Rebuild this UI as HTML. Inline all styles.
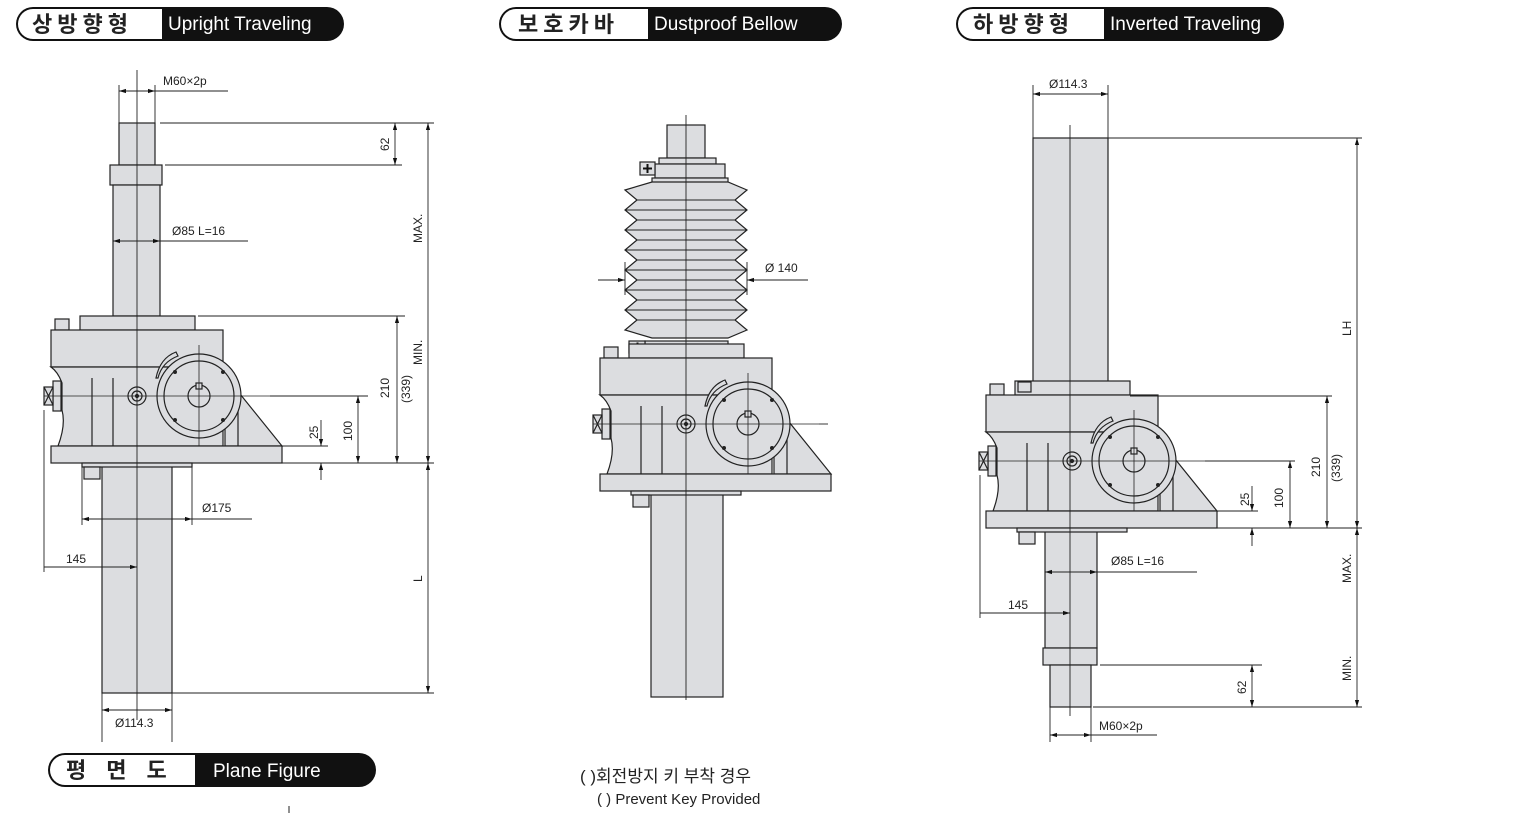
<!DOCTYPE html>
<html><head><meta charset="utf-8"><style>
html,body{margin:0;padding:0;background:#fff;}
svg{display:block;}
text{font-family:"Liberation Sans","Noto Sans CJK KR",sans-serif;fill:#222;}
.d{font-size:12px;}
</style></head><body>
<svg width="1528" height="813" viewBox="0 0 1528 813" xmlns="http://www.w3.org/2000/svg">
<defs>
<marker id="a" viewBox="0 0 10 10" refX="10" refY="5" markerWidth="8" markerHeight="8" orient="auto-start-reverse"><path d="M0,2 L10,5 L0,8 z" fill="#111"/></marker>
<g id="gb" stroke="#222" stroke-width="1.2" fill="#dcdde0">
 <rect x="80" y="316" width="115" height="14"/>
 <rect x="55" y="319" width="14" height="11"/>
 <rect x="51" y="330" width="172" height="37"/>
 <path d="M51,367 L223,367 L223,446 L58,446 Q66,425 62,410 L62,383 Q58,372 51,367 z"/>
 <rect x="53" y="381" width="8" height="30"/>
 <rect x="44" y="387" width="9" height="18"/>
 <path d="M44,387 L53,405 M53,387 L44,405" fill="none"/>
 <path d="M92,378 V446 M113,378 V446" fill="none"/>
 <path d="M225,370 L232,384 L282,446 L225,446 z"/>
 <path d="M238,386 V446" fill="none"/>
 <circle cx="137" cy="396" r="9"/><circle cx="137" cy="396" r="5"/><circle cx="137" cy="396" r="1.5" fill="#222"/>
 <path d="M158,378 Q162,362 178,356 L176,352 Q160,358 156,378 z"/>
 <circle cx="199" cy="396" r="42"/>
 <circle cx="199" cy="396" r="35"/>
 <circle cx="199" cy="396" r="11"/>
 <rect x="196" y="383" width="6" height="6"/>
 <g fill="#222" stroke="none"><circle cx="175" cy="372" r="2"/><circle cx="223" cy="372" r="2"/><circle cx="175" cy="420" r="2"/><circle cx="223" cy="420" r="2"/></g>
 <path d="M199,345 V446" fill="none" stroke-width="0.8"/>
 <rect x="51" y="446" width="231" height="17"/>
 <rect x="82" y="463" width="110" height="4"/>
 <rect x="84" y="467" width="16" height="12"/>
 <path d="M44,396 H270" fill="none" stroke-width="0.8"/>
</g>
</defs>

<!-- headers -->
<g>
 <rect x="16" y="7" width="328" height="34" rx="17" fill="#111"/>
 <path d="M33,9 H162 V39 H33 A15,15 0 0 1 33,9 z" fill="#fff"/>
 <text x="32" y="32" font-size="22" font-weight="bold" letter-spacing="5">상방향형</text>
 <text x="168" y="30" font-size="19" style="fill:#fff">Upright Traveling</text>

 <rect x="499" y="7" width="343" height="34" rx="17" fill="#111"/>
 <path d="M516,9 H648 V39 H516 A15,15 0 0 1 516,9 z" fill="#fff"/>
 <text x="518" y="32" font-size="22" font-weight="bold" letter-spacing="5">보호카바</text>
 <text x="654" y="30" font-size="19" style="fill:#fff">Dustproof Bellow</text>

 <rect x="956" y="7" width="328" height="34" rx="17" fill="#111"/>
 <path d="M973,9 H1104 V39 H973 A15,15 0 0 1 973,9 z" fill="#fff"/>
 <text x="973" y="32" font-size="22" font-weight="bold" letter-spacing="5">하방향형</text>
 <text x="1110" y="30" font-size="19" style="fill:#fff">Inverted Traveling</text>

 <rect x="48" y="753" width="328" height="34" rx="17" fill="#111"/>
 <path d="M65,755 H195 V785 H65 A15,15 0 0 1 65,755 z" fill="#fff"/>
 <text x="66" y="778" font-size="22" font-weight="bold" letter-spacing="20">평면도</text>
 <text x="213" y="777" font-size="19" style="fill:#fff">Plane Figure</text>
 <path d="M289,806 V813" stroke="#222"/>
</g>

<!-- UPRIGHT -->
<g stroke="#222" stroke-width="1.2" fill="#dcdde0">
 <rect x="119" y="123" width="36" height="42"/>
 <rect x="110" y="165" width="52" height="20"/>
 <rect x="113" y="185" width="47" height="131"/>
 <rect x="102" y="463" width="70" height="230"/>
</g>
<use href="#gb"/>
<g stroke="#222" stroke-width="0.9" fill="none">
 <path d="M137,70 V720"/>
 <path d="M119,85 V123 M155,85 V123 M155,91 H228"/>
 <path d="M119,91 H155" marker-start="url(#a)" marker-end="url(#a)"/>
 <path d="M160,123 H434 M165,165 H402"/>
 <path d="M395,123 V165" marker-start="url(#a)" marker-end="url(#a)"/>
 <path d="M428,123 V463" marker-start="url(#a)" marker-end="url(#a)"/>
 <path d="M428,463 V693" marker-start="url(#a)" marker-end="url(#a)"/>
 <path d="M198,316 H405"/>
 <path d="M397,316 V463" marker-start="url(#a)" marker-end="url(#a)"/>
 <path d="M270,396 H368"/>
 <path d="M358,396 V463" marker-start="url(#a)" marker-end="url(#a)"/>
 <path d="M282,446 H328 M282,463 H434"/>
 <path d="M321,420 V446" marker-end="url(#a)"/>
 <path d="M321,480 V463" marker-end="url(#a)"/>
 <path d="M160,241 H248"/>
 <path d="M113,241 H160" marker-start="url(#a)" marker-end="url(#a)"/>
 <path d="M82,467 V525 M192,467 V525 M192,519 H252"/>
 <path d="M82,519 H192" marker-start="url(#a)" marker-end="url(#a)"/>
 <path d="M44,410 V572"/>
 <path d="M44,567 H137" marker-end="url(#a)"/>
 <path d="M102,693 V742 M172,693 V742 M172,693 H434"/>
 <path d="M102,710 H172" marker-start="url(#a)" marker-end="url(#a)"/>
</g>
<g class="d">
 <text x="163" y="85">M60×2p</text>
 <text transform="translate(389,151) rotate(-90)">62</text>
 <text transform="translate(422,243) rotate(-90)">MAX.</text>
 <text transform="translate(422,365) rotate(-90)">MIN.</text>
 <text transform="translate(422,582) rotate(-90)">L</text>
 <text transform="translate(389,398) rotate(-90)">210</text>
 <text transform="translate(410,403) rotate(-90)">(339)</text>
 <text transform="translate(352,441) rotate(-90)">100</text>
 <text transform="translate(318,439) rotate(-90)">25</text>
 <text x="172" y="235">Ø85  L=16</text>
 <text x="202" y="512">Ø175</text>
 <text x="66" y="563">145</text>
 <text x="115" y="727">Ø114.3</text>
</g>

<!-- DUSTPROOF -->
<g stroke="#222" stroke-width="1.2" fill="#dcdde0">
 <rect x="667" y="125" width="38" height="33"/>
 <rect x="659" y="158" width="57" height="6"/>
 <rect x="655" y="164" width="70" height="14"/>
 <rect x="640" y="162" width="15" height="13"/>
 <rect x="652" y="178" width="76" height="8"/>
 <path d="M625,190 L652,182 H728 L747,190 L735,200 L747,210 L735,220 L747,230 L735,240 L747,250 L735,260 L747,270 L735,280 L747,290 L735,300 L747,310 L735,320 L747,330 L728,338 H652 L625,330 L637,320 L625,310 L637,300 L625,290 L637,280 L625,270 L637,260 L625,250 L637,240 L625,230 L637,220 L625,210 L637,200 z"/>
 <path d="M637,200 H735 M625,210 H747 M637,220 H735 M625,230 H747 M637,240 H735 M625,250 H747 M637,260 H735 M625,270 H747 M637,280 H735 M625,290 H747 M637,300 H735 M625,310 H747 M637,320 H735" fill="none" stroke-width="0.9"/>
 <rect x="645" y="341" width="83" height="10"/>
 <rect x="629" y="341" width="16" height="12"/>
 <rect x="651" y="490" width="72" height="207"/>
</g>
<path d="M643,168.5 H652 M647.5,164 V173 M633,347 H642 M637.5,342.5 V351.5" stroke="#111" stroke-width="2"/>
<use href="#gb" transform="translate(549,28)"/>
<g stroke="#222" stroke-width="0.9" fill="none">
 <path d="M686,115 V700"/>
 <path d="M625,262 V295 M747,262 V295 M747,280 H808"/>
 <path d="M598,280 H625" marker-end="url(#a)"/>
 <path d="M780,280 H747" marker-end="url(#a)"/>
 <path d="M819,424 H828"/>
</g>
<text class="d" x="765" y="272">Ø 140</text>
<text x="580" y="782" font-size="17">(  )회전방지 키 부착 경우</text>
<text x="597" y="804" font-size="15">(    ) Prevent Key Provided</text>

<!-- INVERTED -->
<g stroke="#222" stroke-width="1.2" fill="#dcdde0">
 <rect x="1033" y="138" width="75" height="252"/>
 <rect x="1045" y="528" width="52" height="120"/>
 <rect x="1043" y="648" width="54" height="17"/>
 <rect x="1050" y="665" width="41" height="42"/>
</g>
<use href="#gb" transform="translate(935,65)"/>
<rect x="1018" y="382" width="13" height="10" fill="#dcdde0" stroke="#222" stroke-width="1.2"/>
<g stroke="#222" stroke-width="0.9" fill="none">
 <path d="M1070,125 V716"/>
 <path d="M1033,85 V138 M1108,85 V138"/>
 <path d="M1033,94 H1108" marker-start="url(#a)" marker-end="url(#a)"/>
 <path d="M1108,138 H1362"/>
 <path d="M1357,138 V528" marker-start="url(#a)" marker-end="url(#a)"/>
 <path d="M1357,528 V707" marker-start="url(#a)" marker-end="url(#a)"/>
 <path d="M1130,396 H1332"/>
 <path d="M1327,396 V528" marker-start="url(#a)" marker-end="url(#a)"/>
 <path d="M1205,461 H1295"/>
 <path d="M1290,461 V528" marker-start="url(#a)" marker-end="url(#a)"/>
 <path d="M1211,511 H1258 M1211,528 H1362"/>
 <path d="M1252,486 V511" marker-end="url(#a)"/>
 <path d="M1252,546 V528" marker-end="url(#a)"/>
 <path d="M1097,572 H1197"/>
 <path d="M1045,572 H1097" marker-start="url(#a)" marker-end="url(#a)"/>
 <path d="M980,475 V618"/>
 <path d="M980,613 H1070" marker-end="url(#a)"/>
 <path d="M1100,665 H1262 M1093,707 H1362"/>
 <path d="M1252,665 V707" marker-start="url(#a)" marker-end="url(#a)"/>
 <path d="M1050,707 V742 M1091,707 V742 M1091,735 H1157"/>
 <path d="M1050,735 H1091" marker-start="url(#a)" marker-end="url(#a)"/>
</g>
<g class="d">
 <text x="1049" y="88">Ø114.3</text>
 <text transform="translate(1351,336) rotate(-90)">LH</text>
 <text transform="translate(1320,477) rotate(-90)">210</text>
 <text transform="translate(1340,482) rotate(-90)">(339)</text>
 <text transform="translate(1283,508) rotate(-90)">100</text>
 <text transform="translate(1249,506) rotate(-90)">25</text>
 <text transform="translate(1351,583) rotate(-90)">MAX.</text>
 <text transform="translate(1351,681) rotate(-90)">MIN.</text>
 <text transform="translate(1246,694) rotate(-90)">62</text>
 <text x="1111" y="565">Ø85  L=16</text>
 <text x="1008" y="609">145</text>
 <text x="1099" y="730">M60×2p</text>
</g>
</svg>
</body></html>
